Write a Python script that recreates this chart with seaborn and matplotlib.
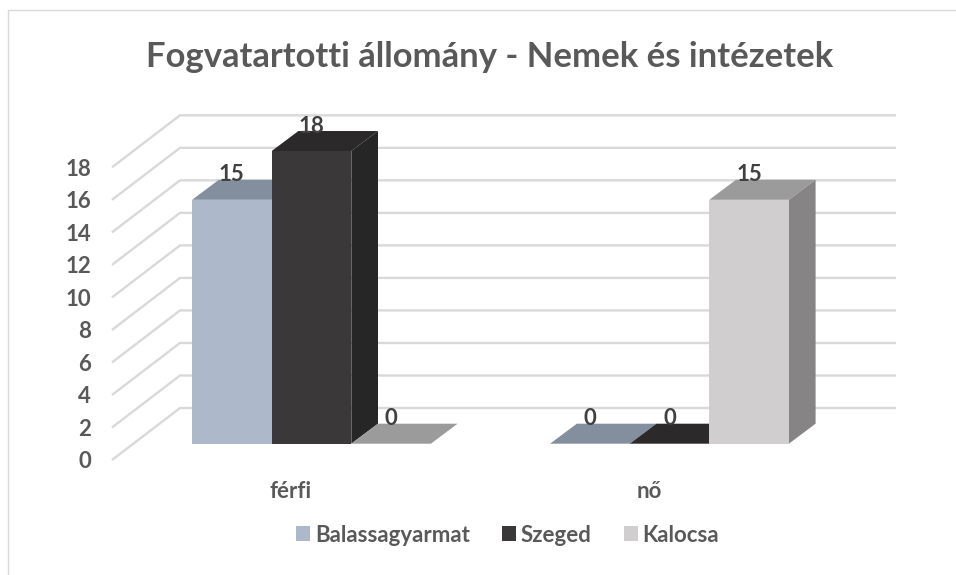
import numpy as np
import pandas as pd
import matplotlib
matplotlib.use("Agg")
import matplotlib.pyplot as plt
import matplotlib.transforms as mtransforms
from matplotlib.patches import Polygon
from matplotlib.lines import Line2D
import seaborn as sns

categories = ["férfi", "nő"]
series_names = ["Balassagyarmat", "Szeged", "Kalocsa"]
balassagyarmat = [15, 0]
szeged = [18, 0]
kalocsa = [0, 15]
y_ticks = [0, 2, 4, 6, 8, 10, 12, 14, 16, 18]

front_colors = ["#ADB9CA", "#3A3838", "#D0CECE"]
top_colors = ["#838F9E", "#2B2929", "#9C9B9B"]
side_colors = ["#838F9E", "#272626", "#868484"]
grid_color = "#D9D9D9"
text_color = "#595959"
label_color = "#404040"

W, H = 956, 575

# Datos en formato largo para seaborn
df = pd.DataFrame({
    "kategoria": categories * 3,
    "telephely": np.repeat(series_names, 2),
    "letszam": balassagyarmat + szeged + kalocsa,
})

sns.set_theme(style="white")
plt.rcParams["font.family"] = ["Lato", "DejaVu Sans"]
plt.rcParams["font.weight"] = "bold"

fig = plt.figure(figsize=(W / 100, H / 100), dpi=100)
# ejes en píxeles: izquierda 112, derecha 896, arriba 100, abajo 460
ax = fig.add_axes([112 / W, 1 - 460 / H, 784 / W, 360 / H])
ax.patch.set_alpha(0)

sns.barplot(data=df, x="kategoria", y="letszam", hue="telephely",
            order=categories, hue_order=series_names,
            palette=dict(zip(series_names, front_colors)),
            width=0.667, gap=0, saturation=1, linewidth=0, ax=ax)

px_x = 358.0      # píxeles entre categorías
px_y = 16.26      # píxeles por unidad
ax.set_xlim((112 - 311.5) / px_x, (896 - 311.5) / px_x)
ax.set_ylim(-(460 - 443.7) / px_y, (443.7 - 100) / px_y)

# profundidad de la barra y de la pared en unidades de datos
bar_dx, bar_dy = 26.7 / px_x, 20.0 / px_y
front_shift_x, front_shift_y = 21.3 / px_x, 16.3 / px_y
wall_dx, wall_dy = 68.0 / px_x, 52.0 / px_y

x0, x1 = ax.get_xlim()
for v in y_ticks:
    y_front = v - front_shift_y
    ax.plot([x0, x0 + wall_dx, x1], [y_front, y_front + wall_dy, y_front + wall_dy],
            color=grid_color, lw=1.7, zorder=0.5, solid_capstyle="butt",
            solid_joinstyle="miter", clip_on=False)

# Caras 3D de cada barra, calculadas desde las barras de seaborn
order = 1
bars = []
for s, container in enumerate(ax.containers):
    for patch in container:
        bars.append((patch.get_x(), s, patch))
bars.sort(key=lambda b: b[0])

for left, s, patch in bars:
    right = left + patch.get_width()
    h = patch.get_height()
    top = Polygon([(left, h), (right, h), (right + bar_dx, h + bar_dy), (left + bar_dx, h + bar_dy)],
                  closed=True, facecolor=top_colors[s], edgecolor="none", zorder=order)
    ax.add_patch(top)
    if h > 0:
        side = Polygon([(right, 0), (right + bar_dx, bar_dy), (right + bar_dx, h + bar_dy), (right, h)],
                       closed=True, facecolor=side_colors[s], edgecolor="none", zorder=order)
        ax.add_patch(side)
    patch.set_zorder(order + 0.5)
    ax.annotate(f"{h:.0f}", (left + patch.get_width() / 2, h), xytext=(0, 18), textcoords="offset points",
                ha="center", va="center", fontsize=16, color=label_color, zorder=20)
    order += 1

# Ejes
ax.set_xlabel("")
ax.set_ylabel("")
ax.set_yticks(y_ticks)
ax.set_yticklabels([str(v) for v in y_ticks])
ax.tick_params(axis="y", length=0, pad=15, labelsize=16, labelcolor=text_color)
ax.tick_params(axis="x", length=0, pad=15, labelsize=16, labelcolor=text_color)
for lab in ax.get_yticklabels():
    lab.set_transform(lab.get_transform() + mtransforms.Affine2D().translate(0, -16.3))
for lab in ax.get_xticklabels():
    lab.set_transform(lab.get_transform() + mtransforms.Affine2D().translate(-20.5, 0))
sns.despine(ax=ax, left=True, bottom=True)

handles, labels = ax.get_legend_handles_labels()
ax.legend(handles, labels, loc="center", bbox_to_anchor=(507.5 / W, 1 - 535 / H),
          bbox_transform=fig.transFigure, ncol=3, frameon=False, fontsize=16,
          labelcolor=text_color, handlelength=0.63, handleheight=0.63,
          handletextpad=0.2, columnspacing=1.45)

fig.text(489.5 / W, 1 - 57 / H, "Fogvatartotti állomány - Nemek és intézetek",
         ha="center", va="center", fontsize=24.9, color=text_color)

# Marco del gráfico
fig.add_artist(Line2D([8 / W, 8 / W], [0, 1 - 10 / H], color=grid_color, lw=1))
fig.add_artist(Line2D([8 / W, 1], [1 - 10 / H, 1 - 10 / H], color=grid_color, lw=1))

fig.savefig("out.png", dpi=100)
